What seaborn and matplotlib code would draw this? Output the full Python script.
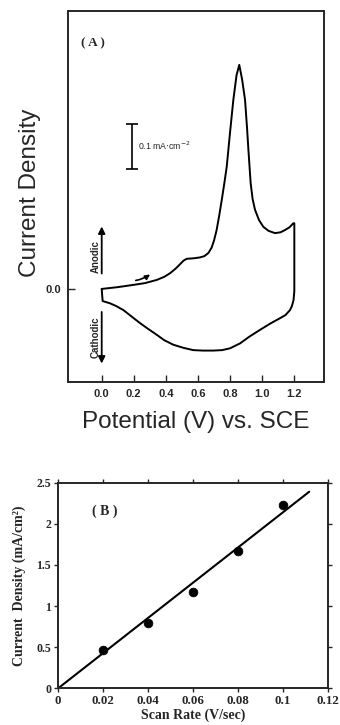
import numpy as np
import pandas as pd
import matplotlib
matplotlib.use("Agg")
import matplotlib.pyplot as plt
import seaborn as sns

# ---------------- data ----------------
# Panel A: cyclic voltammogram (forward then reverse scan)
cv_potential = [0.0, 0.1, 0.197, 0.27, 0.343, 0.39, 0.426, 0.46, 0.488, 0.51,
                0.53, 0.57, 0.612, 0.64, 0.665, 0.685, 0.7, 0.716, 0.732, 0.748,
                0.764, 0.779, 0.799, 0.82, 0.84, 0.857, 0.875, 0.893, 0.905,
                0.914, 0.928, 0.94, 0.955, 0.98, 1.007, 1.04, 1.08, 1.115,
                1.142, 1.17, 1.194, 1.2,
                1.2, 1.195, 1.185, 1.173, 1.145, 1.111, 1.05, 0.986, 0.92,
                0.862, 0.799, 0.75, 0.695, 0.63, 0.571, 0.51, 0.446, 0.39,
                0.343, 0.29, 0.239, 0.185, 0.135, 0.09, 0.052, 0.025, 0.006,
                0.003, 0.0]
cv_current = [0.0, 0.004, 0.009, 0.013, 0.02, 0.027, 0.035, 0.045, 0.055, 0.063,
              0.067, 0.068, 0.07, 0.073, 0.08, 0.092, 0.108, 0.131, 0.163, 0.198,
              0.235, 0.272, 0.346, 0.42, 0.475, 0.498, 0.465, 0.42, 0.36,
              0.309, 0.235, 0.2, 0.176, 0.153, 0.138, 0.129, 0.124, 0.126,
              0.131, 0.137, 0.146, 0.146,
              -0.005, -0.025, -0.038, -0.047, -0.058, -0.065, -0.077, -0.091,
              -0.106, -0.121, -0.132, -0.136, -0.137, -0.137, -0.136, -0.131,
              -0.124, -0.114, -0.102, -0.089, -0.076, -0.061, -0.047, -0.038,
              -0.032, -0.029, -0.027, -0.015, 0.0]
a_xticks = [0.0, 0.2, 0.4, 0.6, 0.8, 1.0, 1.2]
a_xticklabels = ["0.0", "0.2", "0.4", "0.6", "0.8", "1.0", "1.2"]

# Panel B: peak current density vs scan rate
scan_rate = [0.02, 0.04, 0.06, 0.08, 0.10]
peak_density = [0.46, 0.79, 1.17, 1.67, 2.23]
fit_x = [0.0, 0.1116]
fit_y = [0.0, 2.39]
b_xticks = [0, 0.02, 0.04, 0.06, 0.08, 0.10, 0.12]
b_xticklabels = ["0", "0.02", "0.04", "0.06", "0.08", "0.1", "0.12"]
b_yticks = [0, 0.5, 1.0, 1.5, 2.0, 2.5]
b_yticklabels = ["0", "0.5", "1", "1.5", "2", "2.5"]

# ---------------- style ----------------
sns.set_style("ticks")
plt.rcParams["font.family"] = ["Liberation Sans", "DejaVu Sans"]
SERIF = ["Liberation Serif", "DejaVu Serif"]

fig = plt.figure(figsize=(3.4, 7.25), dpi=100)

# ---------------- Panel A ----------------
axA = fig.add_axes([0.200, 0.473, 0.753, 0.512])
dfA = pd.DataFrame({"potential": cv_potential, "current": cv_current})
sns.lineplot(data=dfA, x="potential", y="current", sort=False, estimator=None,
             color="black", lw=1.4, ax=axA)
axA.set_xlim(-0.21, 1.385)
axA.set_ylim(-0.207, 0.618)
axA.set_xticks(a_xticks)
axA.set_xticklabels(a_xticklabels, fontsize=8, fontweight="bold")
axA.set_yticks([0.0])
axA.set_yticklabels(["0.0"], fontsize=8, fontweight="bold")
axA.tick_params(direction="in", length=5, width=1.0, pad=5)
for s in axA.spines.values():
    s.set_linewidth(1.4)
axA.set_xlabel("Potential (V) vs. SCE", fontsize=17.5)
axA.xaxis.set_label_coords(0.5, -0.078)
axA.set_ylabel("Current Density", fontsize=17.5)
axA.yaxis.set_label_coords(-0.105, 0.51)

axA.text(-0.13, 0.547, "( A )", fontsize=9.5, fontweight="bold",
         family=SERIF, va="center", ha="left")
# scale bar
axA.errorbar([0.187], [0.317], yerr=[0.05], color="black", capsize=4,
             elinewidth=1.2, capthick=1.2)
axA.text(0.225, 0.318, "0.1 mA$\\cdot$cm$^{-2}$", fontsize=6.3,
         va="center", ha="left")
# anodic / cathodic arrows
axA.annotate("", xy=(0.0, 0.145), xytext=(0.0, 0.028),
             arrowprops=dict(arrowstyle="-|>", color="black", lw=1.3,
                             mutation_scale=10))
axA.annotate("", xy=(0.0, -0.172), xytext=(0.0, -0.045),
             arrowprops=dict(arrowstyle="-|>", color="black", lw=1.3,
                             mutation_scale=10))
axA.text(-0.04, 0.072, "Anodic", rotation=90, fontsize=7, fontweight="bold",
         va="center", ha="center")
axA.text(-0.04, -0.107, "Cathodic", rotation=90, fontsize=7, fontweight="bold",
         va="center", ha="center")
# scan direction arrow
axA.annotate("", xy=(0.315, 0.036), xytext=(0.195, 0.018),
             arrowprops=dict(arrowstyle="-|>", color="black", lw=1.2,
                             mutation_scale=7,
                             connectionstyle="arc3,rad=0.15"))

# ---------------- Panel B ----------------
axB = fig.add_axes([0.171, 0.0506, 0.794, 0.2836])
dfFit = pd.DataFrame({"rate": fit_x, "density": fit_y})
sns.lineplot(data=dfFit, x="rate", y="density", color="black", lw=1.5, ax=axB)
dfB = pd.DataFrame({"rate": scan_rate, "density": peak_density})
sns.scatterplot(data=dfB, x="rate", y="density", color="black", s=40,
                edgecolor="black", zorder=3, ax=axB)
axB.set_xlim(0, 0.12)
axB.set_ylim(0, 2.5)
axB.set_xticks(b_xticks)
axB.set_xticklabels(b_xticklabels, fontsize=9.3, fontweight="bold", family=SERIF)
axB.set_yticks(b_yticks)
axB.set_yticklabels(b_yticklabels, fontsize=8.5, fontweight="bold", family=SERIF)
axB.tick_params(direction="out", length=3, width=1.0, pad=2,
                top=True, right=True)
for s in axB.spines.values():
    s.set_linewidth(1.4)
axB.set_xlabel("Scan Rate (V/sec)", fontsize=10, fontweight="bold", family=SERIF)
axB.xaxis.set_label_coords(0.5, -0.1)
axB.set_ylabel("Current  Density (mA/cm\u00b2)", fontsize=10,
               fontweight="bold", family=SERIF)
axB.yaxis.set_label_coords(-0.12, 0.5)
axB.text(0.015, 2.15, "( B )", fontsize=10, fontweight="bold",
         family=SERIF, va="center", ha="left")

fig.savefig("out.png", dpi=100)
